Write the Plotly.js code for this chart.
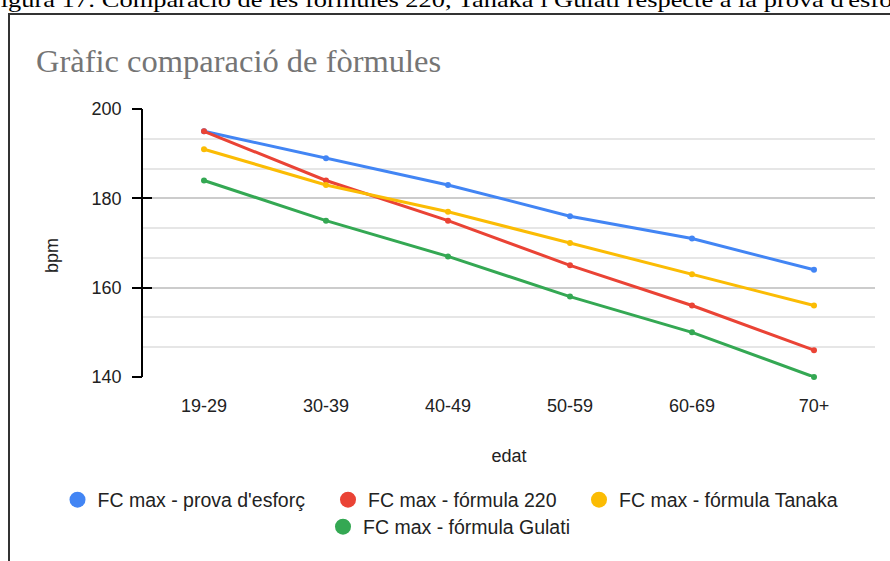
<!DOCTYPE html>
<html>
<head>
<meta charset="utf-8">
<script src="https://cdn.plot.ly/plotly-3.0.1.min.js"></script>
<style>
  html, body { margin: 0; padding: 0; background: #fff; overflow: hidden; }
  #wrap { position: relative; width: 890px; height: 561px; overflow: hidden; }
  #caption { position: absolute; left: -14px; top: -11px; font-family: "Liberation Serif", serif; font-size: 22px; line-height: 22px; color: #000; white-space: nowrap; transform: scaleX(1.2); transform-origin: 0 0; }
  #ftop { position: absolute; left: 8px; top: 13px; width: 900px; height: 2px; background: #333; }
  #fleft { position: absolute; left: 8px; top: 13px; width: 2px; height: 560px; background: #333; }
  #chart { position: absolute; left: 0; top: 0; width: 890px; height: 561px; }
  g[class^="legend"] .traces { opacity: 1 !important; }
</style>
</head>
<body>
<div id="wrap">
  <div id="caption">Figura 17: Comparació de les fórmules 220, Tanaka i Gulati respecte a la prova d'esforç</div>
  <div id="ftop"></div>
  <div id="fleft"></div>
  <div id="chart"></div>
</div>
<script>
const categories = ["19-29", "30-39", "40-49", "50-59", "60-69", "70+"];
const provaEsforc = [195, 189, 183, 176, 171, 164];
const formula220 = [195, 184, 175, 165, 156, 146];
const formulaTanaka = [191, 183, 177, 170, 163, 156];
const formulaGulati = [184, 175, 167, 158, 150, 140];
const seriesNames = ["FC max - prova d'esforç", "FC max - fórmula 220", "FC max - fórmula Tanaka", "FC max - fórmula Gulati"];
const seriesColors = ["#4285F4", "#EA4335", "#FBBC04", "#34A853"];
const yTicks = [140, 160, 180, 200];

const W = 890, H = 561;
const seriesData = [provaEsforc, formula220, formulaTanaka, formulaGulati];
const legendIds = ["legend", "legend2", "legend3", "legend4"];
// all y axes share the same range; the extra ones only draw the crossing tick marks
const traceYAxis = ["y", "y", "y3", "y2"];

const traces = [];
seriesData.forEach((vals, i) => {
  traces.push({
    type: "scatter", mode: "lines+markers", x: categories, y: vals, yaxis: traceYAxis[i],
    name: seriesNames[i], showlegend: false, cliponaxis: false,
    line: { color: seriesColors[i], width: 3 },
    marker: { color: seriesColors[i], size: 6 },
    hoverinfo: "x+y+name"
  });
});
// legend entries (circles only)
seriesData.forEach((vals, i) => {
  traces.push({
    type: "scatter", mode: "markers", x: categories, y: vals,
    name: seriesNames[i], visible: "legendonly",
    legend: legendIds[i],
    marker: { color: seriesColors[i], size: 16, symbol: "circle" }
  });
});

const plotL = 143, plotR = 875, plotT = 109, plotB = 377;

function legendAt(cx, cy) {
  return {
    orientation: "h", xref: "container", yref: "container",
    x: (cx - 18) / W, xanchor: "left", y: 1 - cy / H, yanchor: "middle",
    font: { size: 19.5, color: "#222" }, itemclick: false, itemdoubleclick: false,
    bgcolor: "rgba(0,0,0,0)", borderwidth: 0
  };
}

function tickAxis(dir, len) {
  return {
    overlaying: "y", side: "left", range: [140, 200], autorange: false,
    tickmode: "array", tickvals: yTicks,
    showticklabels: false, showgrid: false, zeroline: false, showline: false,
    ticks: dir, ticklen: len, tickcolor: "#000", tickwidth: 1.5
  };
}

const layout = {
  width: W, height: H,
  paper_bgcolor: "rgba(0,0,0,0)",
  plot_bgcolor: "rgba(0,0,0,0)",
  margin: { l: plotL, r: W - plotR, t: plotT, b: H - plotB, pad: 0 },
  font: { family: "Liberation Sans, Arial, sans-serif", size: 18, color: "#222" },
  title: {
    text: "Gràfic comparació de fòrmules",
    font: { family: "Liberation Serif, Times New Roman, serif", size: 32.5, color: "#757575" },
    xref: "container", yref: "container", x: 36 / W, xanchor: "left",
    y: 1 - 61 / H, yanchor: "middle"
  },
  xaxis: {
    type: "category", categoryorder: "array", categoryarray: categories,
    range: [-0.5, 5.5], showgrid: false, zeroline: false, showline: false,
    ticks: "outside", ticklen: 12, tickcolor: "rgba(0,0,0,0)",
    tickfont: { size: 18, color: "#222" },
    title: { text: "edat", font: { size: 18, color: "#222" }, standoff: 34 }
  },
  yaxis: {
    range: [140, 200], autorange: false, tickmode: "array", tickvals: yTicks, ticktext: yTicks.map(String),
    showline: true, linecolor: "#000", linewidth: 1.5,
    ticks: "", ticklabelstandoff: 16,
    showgrid: true, gridcolor: "#cccccc", gridwidth: 1.5, zeroline: false,
    tickfont: { size: 18, color: "#222" },
    minor: { tickmode: "linear", tick0: 140, dtick: 20 / 3, showgrid: true, gridcolor: "#e6e6e6", gridwidth: 1.5, ticks: "" }
  },
  yaxis2: tickAxis("outside", 10),
  yaxis3: tickAxis("inside", 9),
  annotations: [{
    text: "bpm", textangle: -90, showarrow: false,
    xref: "paper", yref: "paper",
    x: (52 - plotL) / (plotR - plotL), y: (plotB - 256) / (plotB - plotT),
    xanchor: "center", yanchor: "middle",
    font: { size: 18, color: "#222" }
  }],
  legend: legendAt(75.5, 500),
  legend2: legendAt(346, 500),
  legend3: legendAt(597, 500),
  legend4: legendAt(341, 527),
  hovermode: "closest"
};

Plotly.newPlot("chart", traces, layout, { displayModeBar: false, responsive: false });
</script>
</body>
</html>
